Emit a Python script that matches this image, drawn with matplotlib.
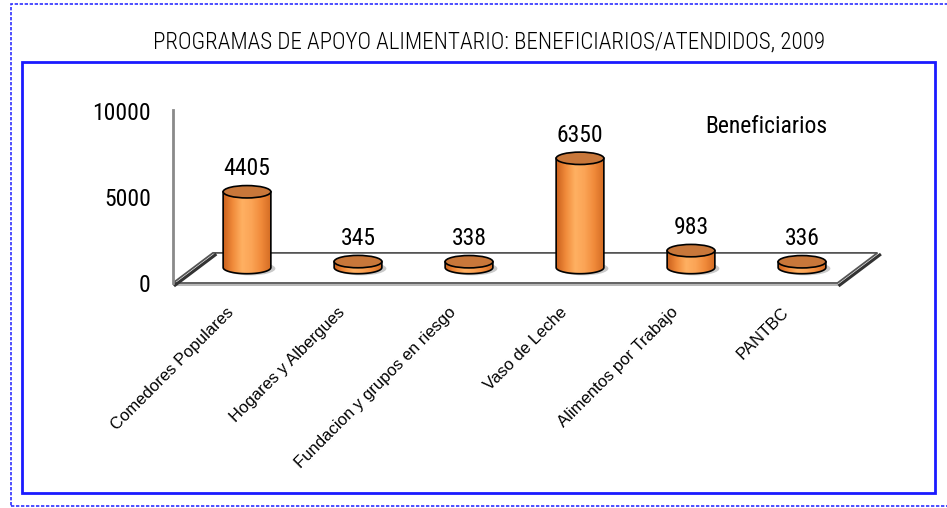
import numpy as np
import matplotlib
matplotlib.use("Agg")
import matplotlib.pyplot as plt
from matplotlib.patches import Ellipse, Polygon, Rectangle
from matplotlib.colors import LinearSegmentedColormap

# data
programas = ["Comedores Populares", "Hogares y Albergues", "Fundacion y grupos en riesgo",
             "Vaso de Leche", "Alimentos por Trabajo", "PANTBC"]
beneficiarios = [4405, 345, 338, 6350, 983, 336]
y_ticks = [0, 5000, 10000]
titulo = "PROGRAMAS DE APOYO ALIMENTARIO: BENEFICIARIOS/ATENDIDOS, 2009"
serie = "Beneficiarios"

narrow = ["Roboto Condensed", "Liberation Sans", "DejaVu Sans"]
arial = ["Liberation Sans", "DejaVu Sans"]

W, H = 947, 508
fig = plt.figure(figsize=(W / 100, H / 100), dpi=100)

# frames: outer dotted, inner solid
fig.patches.append(Rectangle((11 / W, 2 / H), 950 / W, 502 / H, transform=fig.transFigure,
                             fill=False, ec="#3030ff", lw=1.2, ls=(0, (2, 1))))
fig.patches.append(Rectangle((22 / W, (H - 493) / H), 913 / W, 431 / H, transform=fig.transFigure,
                             fill=False, ec="#1a1aff", lw=2))
fig.text(489 / W, 1 - 42 / H, titulo, ha="center", va="center", fontsize=16.6,
         fontweight="light", family=narrow)

# axes placed so that category i sits at pixel 247 + 111 i
x0, x1 = -0.667, 5.8
y0, y1 = -500, 10500
px_per_cat = 111
px_per_val = 86 / 5000
left = 247 + x0 * px_per_cat
right = 247 + x1 * px_per_cat
bottom = 283 - y0 * px_per_val
top = 283 - y1 * px_per_val
ax = fig.add_axes([left / W, 1 - bottom / H, (right - left) / W, (bottom - top) / H])
ax.set_xlim(x0, x1)
ax.set_ylim(y0, y1)
ax.patch.set_alpha(0)
for s in ["top", "right", "bottom"]:
    ax.spines[s].set_visible(False)
ax.spines["left"].set_bounds(0, 10050)
ax.spines["left"].set_color("#8a8a8a")
ax.spines["left"].set_linewidth(2)
ax.set_xticks([])
ax.set_yticks(y_ticks)
ax.set_yticklabels([str(t) for t in y_ticks], family=narrow, fontsize=17)
ax.tick_params(axis="y", length=0, pad=16)

# floor
depth_x, depth_y = 0.36, 1750
floor_r = 5.32
floor = Polygon([(x0, 0), (floor_r, 0), (floor_r + depth_x, depth_y), (x0 + depth_x, depth_y)],
                closed=True, fc="white", ec="#555555", lw=1.3, zorder=1)
ax.add_patch(floor)
ax.plot([x0 + 0.02, x0 + depth_x + 0.02], [-120, depth_y - 120], color="#333333", lw=2.2, zorder=1)
ax.plot([floor_r + 0.02, floor_r + depth_x + 0.02], [-120, depth_y - 120], color="#333333", lw=2.2, zorder=1)
ax.plot([x0, floor_r], [-100, -100], color="#aaaaaa", lw=1.2, zorder=0.9)

# cylinders
base = 900
w = 0.43
eh = 720
cmap = LinearSegmentedColormap.from_list(
    "cyl", ["#c9601c", "#f08a3a", "#ffb062", "#fba456", "#f08a3a", "#d46c24"])
grad = np.linspace(0, 1, 200).reshape(1, -1)
t = np.linspace(0, np.pi, 60)
for i, v in enumerate(beneficiarios):
    topv = base + v
    # soft shadow
    ax.add_patch(Ellipse((i + 0.03, base - 60), w * 1.05, eh * 1.1, fc="#888888", ec="none",
                         alpha=0.45, zorder=2))
    arc_x = i + (w / 2) * np.cos(t)
    arc_y = base - (eh / 2) * np.sin(t)
    pts = [(i - w / 2, topv), (i + w / 2, topv)] + list(zip(arc_x, arc_y))
    body = Polygon(pts, closed=True, fc="none", ec="black", lw=1.2, zorder=4)
    ax.add_patch(body)
    im = ax.imshow(grad, cmap=cmap, extent=[i - w / 2, i + w / 2, base - eh / 2, topv],
                   aspect="auto", zorder=3)
    im.set_clip_path(body)
    ax.add_patch(Ellipse((i, topv), w, eh, fc="#c8773a", ec="black", lw=1.2, zorder=5))
    ax.text(i, topv + eh / 2 + 300, str(v), ha="center", va="bottom", fontsize=17,
            family=narrow, zorder=6)
    ax.text(i - 0.14, -1550, programas[i], rotation=45, rotation_mode="anchor",
            ha="right", va="center", fontsize=12, family=arial, clip_on=False)

ax.set_xlim(x0, x1)
ax.set_ylim(y0, y1)
ax.text(4.68, 9070, serie, ha="center", va="center", fontsize=17, family=narrow)

fig.savefig("out.png", dpi=100)
